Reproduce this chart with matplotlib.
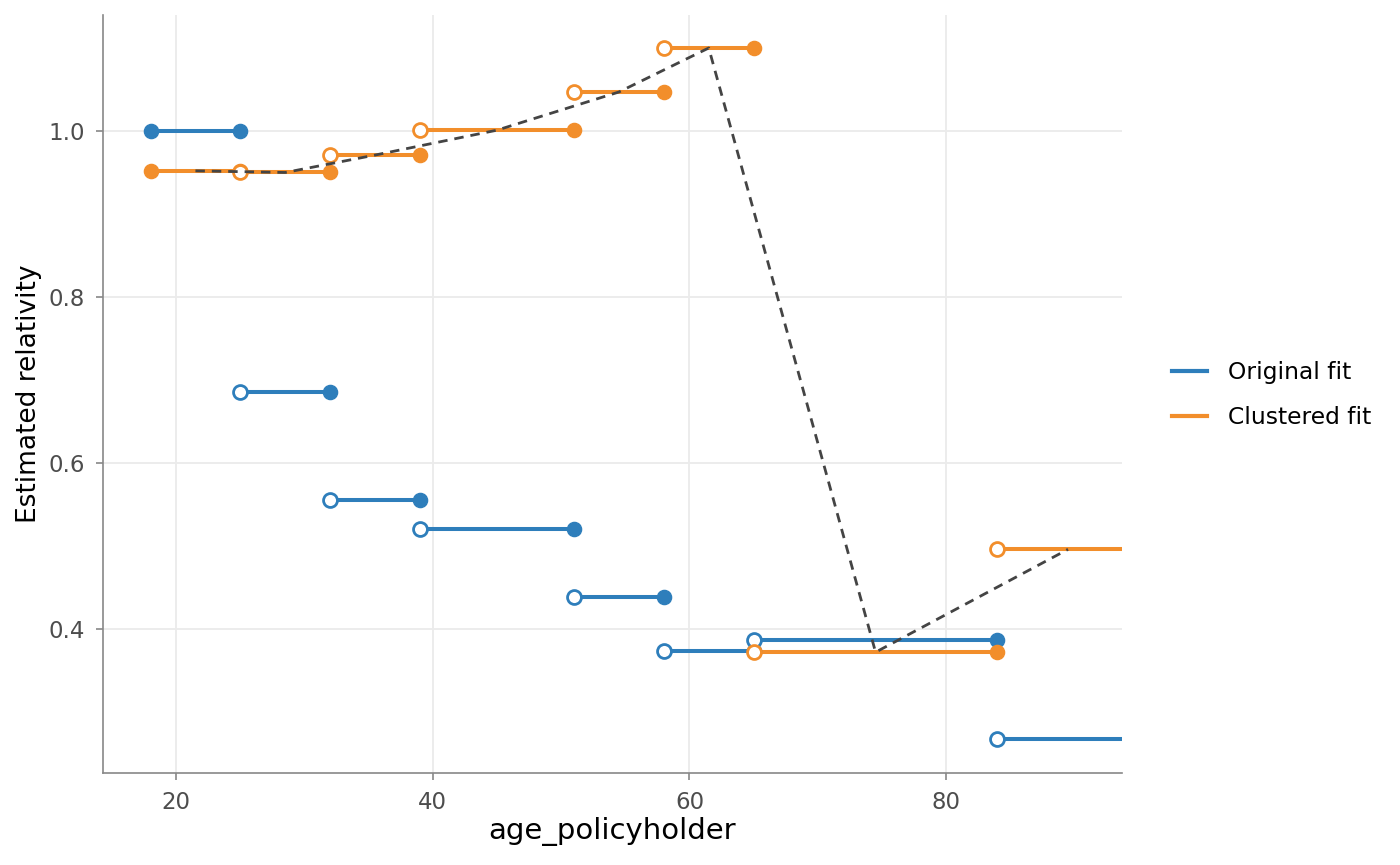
import matplotlib
matplotlib.use("Agg")
import matplotlib.pyplot as plt
from matplotlib.lines import Line2D

# age band breakpoints (last band runs past the plot edge)
breaks = [18, 25, 32, 39, 51, 58, 65, 84, 95]
original_fit = [1.000, 0.686, 0.555, 0.521, 0.439, 0.373, 0.387, 0.268]
clustered_fit = [0.952, 0.950, 0.971, 1.001, 1.047, 1.100, 0.372, 0.496]

blue = "#2e7ebb"
orange = "#f28e2b"

fig = plt.figure(figsize=(14, 8.65), dpi=100)
ax = fig.add_axes([0.0736, 0.1064, 0.7278, 0.8763])


def draw_steps(values, color):
    n = len(values)
    for i in range(n):
        x0, x1 = breaks[i], breaks[i + 1]
        y = values[i]
        ax.plot([x0, x1], [y, y], color=color, lw=2.9, solid_capstyle="butt", zorder=3)
    for i in range(n):
        x0, x1 = breaks[i], breaks[i + 1]
        y = values[i]
        if i == 0:
            ax.plot(x0, y, "o", color=color, ms=10.2, mec=color, zorder=4)
        else:
            ax.plot(x0, y, "o", mfc="white", mec=color, mew=2.0, ms=10, zorder=4)
        if i < n - 1:
            ax.plot(x1, y, "o", color=color, ms=10.2, mec=color, zorder=4)


draw_steps(original_fit, blue)
draw_steps(clustered_fit, orange)

# dashed line through the band midpoints of the clustered fit
mids = [(breaks[i] + breaks[i + 1]) / 2 for i in range(len(clustered_fit))]
ax.plot(mids, clustered_fit, color="#444444", lw=2.0, ls=(0, (3.4, 2.5)), zorder=5)

ax.set_xlim(14.3, 93.7)
ax.set_ylim(0.2265, 1.1398)
ax.set_xticks([20, 40, 60, 80])
ax.set_yticks([0.4, 0.6, 0.8, 1.0])
ax.set_yticklabels(["0.4", "0.6", "0.8", "1.0"])
ax.grid(True, color="#ebebeb", lw=1.3)
ax.set_axisbelow(True)

for s in ["top", "right"]:
    ax.spines[s].set_visible(False)
for s in ["left", "bottom"]:
    ax.spines[s].set_color("#888888")
    ax.spines[s].set_linewidth(1.2)

ax.tick_params(axis="both", colors="#888888", labelcolor="#4d4d4d",
               labelsize=16.5, length=5, width=1.2, pad=8)

ax.set_xlabel("age_policyholder", fontsize=21, labelpad=2)
ax.set_ylabel("Estimated relativity", fontsize=19, labelpad=5)

handles = [Line2D([0], [0], color=blue, lw=3),
           Line2D([0], [0], color=orange, lw=3)]
fig.legend(handles, ["Original fit", "Clustered fit"], loc="center left",
           bbox_to_anchor=(0.822, 0.543), frameon=False, fontsize=16.8,
           handlelength=1.5, handletextpad=0.9, labelspacing=0.95)

fig.savefig("out.png", dpi=100)
